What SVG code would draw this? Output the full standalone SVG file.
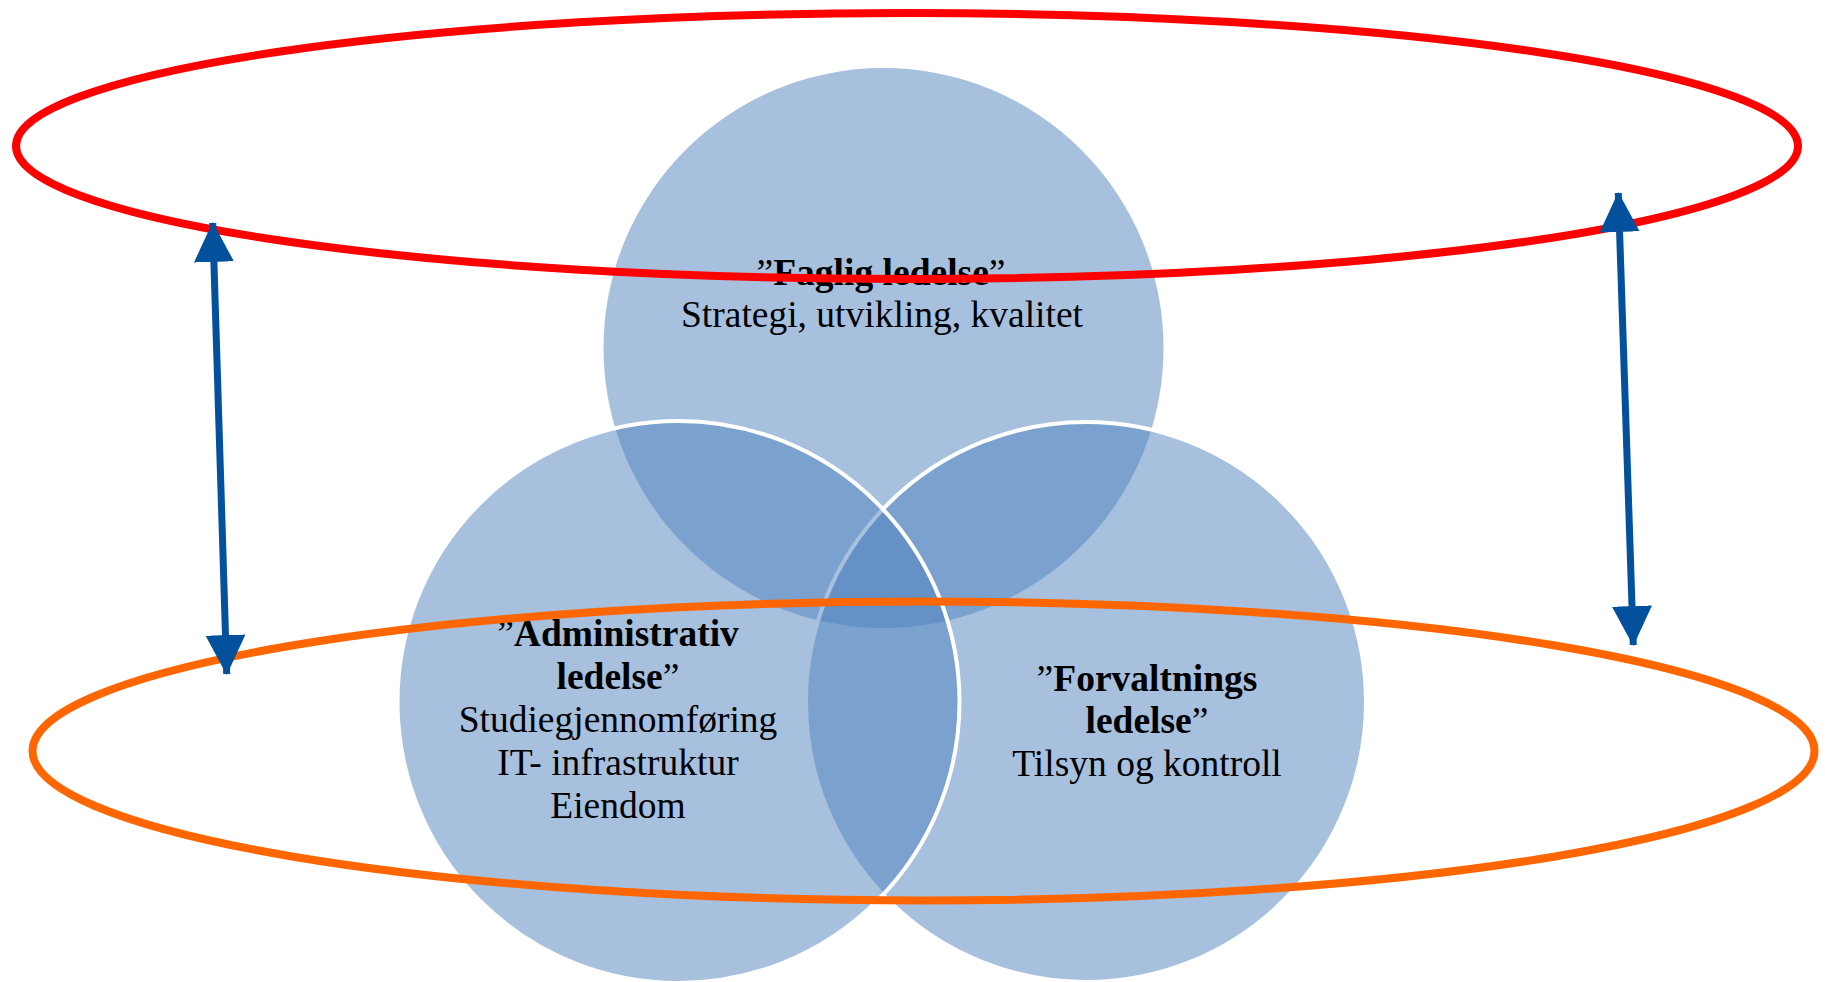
<svg xmlns="http://www.w3.org/2000/svg" width="1825" height="982" viewBox="0 0 1825 982">
<style>
.c{fill:#4F81BD;fill-opacity:0.5}
.cs{stroke:#FFFFFF;stroke-width:4}
.t{font-family:"Liberation Serif","Times New Roman",serif;font-size:37.5px;fill:#000;text-anchor:middle}
.b{font-weight:bold}
.arr{stroke:#03519C;stroke-width:7;fill:none;marker-start:url(#ah);marker-end:url(#ah)}
</style>
<defs>
<marker id="ah" markerUnits="userSpaceOnUse" markerWidth="40" markerHeight="40" viewBox="0 0 39 39" refX="38" refY="19.5" orient="auto-start-reverse">
<path d="M0,0 L39,19.5 L0,39 z" fill="#03519C"/>
</marker>
</defs>
<rect width="1825" height="982" fill="#FFFFFF"/>
<g id="faglig">
<circle class="c" cx="883.5" cy="348" r="280"/>
<text class="t" x="881" y="285"><tspan>”</tspan><tspan class="b">Faglig ledelse</tspan><tspan>”</tspan></text>
<text class="t" x="882" y="327">Strategi, utvikling, kvalitet</text>
</g>
<g id="forvaltning">
<circle class="c cs" cx="1086" cy="702" r="280"/>
<text class="t" x="1147" y="691"><tspan>”</tspan><tspan class="b">Forvaltnings</tspan></text>
<text class="t" x="1147" y="733"><tspan class="b">ledelse</tspan><tspan>”</tspan></text>
<text class="t" x="1147" y="776">Tilsyn og kontroll</text>
</g>
<g id="administrativ">
<circle class="c cs" cx="678.5" cy="702" r="281"/>
<text class="t" x="618" y="646"><tspan>”</tspan><tspan class="b">Administrativ</tspan></text>
<text class="t" x="618" y="689"><tspan class="b">ledelse</tspan><tspan>”</tspan></text>
<text class="t" x="618" y="732">Studiegjennomføring</text>
<text class="t" x="618" y="775">IT- infrastruktur</text>
<text class="t" x="618" y="818">Eiendom</text>
</g>
<g id="strategisk-niva">
<ellipse cx="907" cy="146" rx="891" ry="133" fill="none" stroke="#FF0000" stroke-width="8"/>
</g>
<g id="operativt-niva">
<ellipse cx="923.5" cy="751" rx="891" ry="149.5" fill="none" stroke="#FF6600" stroke-width="8"/>
</g>
<g id="connectors">
<line class="arr" x1="212.7" y1="223" x2="226.7" y2="674"/>
<line class="arr" x1="1618.3" y1="193" x2="1633.3" y2="645"/>
</g>
</svg>
